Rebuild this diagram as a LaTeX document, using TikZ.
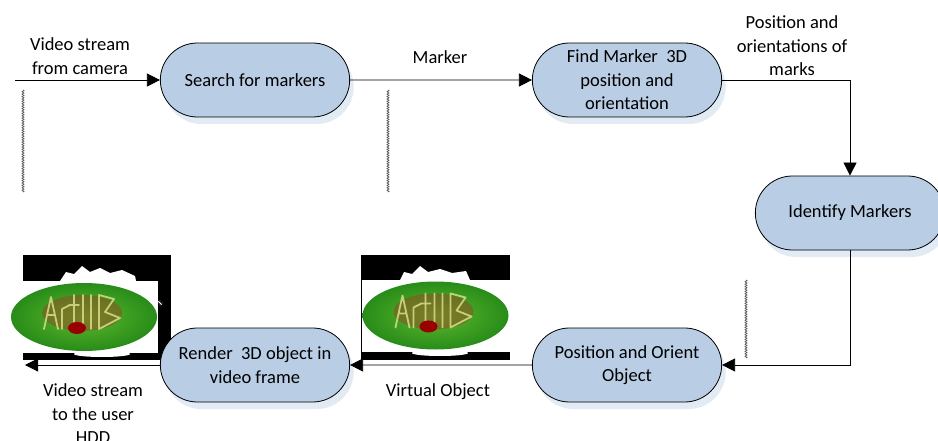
\documentclass[tikz,border=0pt]{standalone}
\usepackage{fontspec}
\setmainfont{Carlito}
\usetikzlibrary{shapes.misc, shadows, arrows.meta, decorations.pathmorphing}

\definecolor{stagefill}{HTML}{B9CDE5}
\definecolor{leaf}{RGB}{95,185,45}
\definecolor{leafdark}{RGB}{40,140,25}
\definecolor{sauce}{RGB}{150,70,35}
\definecolor{cheese}{RGB}{210,215,130}

\tikzset{
  stage/.style={rounded rectangle, draw, thick, fill=stagefill, align=center,
    minimum width=196pt, minimum height=74pt, font=\fontsize{18.5}{23.5}\selectfont,
    drop shadow={shadow xshift=4pt, shadow yshift=-7pt, fill=stagefill!70, opacity=0.6}},
  flow/.style={-{Triangle[length=13pt,width=13pt]}, line width=0.8pt},
  lbl/.style={align=center, font=\fontsize{18.5}{23.5}\selectfont},
  wiggle/.style={gray!70!black, line width=0.7pt, decorate,
    decoration={zigzag, amplitude=1pt, segment length=2.4pt}},
  salad/.pic={
    \fill[white] (-74,-36) rectangle (74,36);
    \shade[inner color=leaf, outer color=leafdark] (0,0) ellipse (73 and 34);
    \fill[sauce, opacity=0.5] (-2,-4) ellipse (40 and 18);
    \draw[cheese, line width=1.8pt, line join=round, line cap=round, opacity=0.9]
      (-40,12) -- (-33,-20) -- (-26,12) (-37,-2) -- (-29,-2)
      (-22,12) -- (-22,-8) -- (-14,-12)
      (-10,12) -- (-10,-22) (-15,-12) -- (-5,-12)
      (-1,12) -- (-1,-22) (7,12) -- (7,-22)
      (15,12) -- (15,-22) -- (30,-18) -- (21,-5) -- (36,1) -- (15,12);
    \fill[red!60!black] (-7,11) ellipse (9 and 6);
  }
}

\begin{document}
\begin{tikzpicture}[x=1pt, y=-1pt]
  \useasboundingbox (0,0) rectangle (938,441);
  \clip (0,0) rectangle (938,441);

  % pictures of the virtual object
  \fill[black] (23,255) rectangle (171,360);
  \fill[white] (60,281) -- (66,272) -- (74,274) -- (82,266) -- (90,272) -- (100,268)
    -- (110,273) -- (122,270) -- (135,276) -- (136,281) -- cycle;
  \fill[white] (102,354) ellipse (28 and 3);
  \draw[white, thin] (157,303) -- (163,303) (160,300) -- (160,306) (158,301) -- (162,305);
  \pic at (84,317) {salad};

  \fill[black] (361,255) rectangle (510,360);
  \fill[white] (400,280) -- (404,272) -- (412,274) -- (420,266) -- (428,272) -- (440,269)
    -- (452,273) -- (466,271) -- (470,280) -- cycle;
  \fill[white] (440,353) ellipse (28 and 3);
  \pic at (435.5,315.5) {salad};

  % stray dotted marks
  \draw[wiggle] (23,90) -- (23,192);
  \draw[wiggle] (388,90) -- (388,192);
  \draw[wiggle] (746,280) -- (746,358);

  % stages
  \node[stage] (search) at (255,80) {Search for markers};
  \node[stage] (find) at (627,80) {Find Marker~~3D\\position and\\orientation};
  \node[stage] (identify) at (850,213) {Identify Markers};
  \node[stage] (orient) at (627,365) {Position and Orient\\Object};
  \node[stage] (render) at (255,365) {Render~~3D object in\\video frame};

  \coordinate (camera) at (15,80);
  \coordinate (user) at (25,365);

  % flow
  \draw[flow] (camera) -- (search);
  \draw[flow] (search) -- (find);
  \draw[flow] (find) -| (identify);
  \draw[flow] (identify) |- (orient);
  \draw[flow] (orient) -- (render);
  \draw[flow] (render) -- (user);

  % labels
  \node[lbl] (inlbl) at (80,56) {Video stream\\from camera};
  \node[lbl] (markerlbl) at (440,57) {Marker};
  \node[lbl] (poselbl) at (792,46) {Position and\\orientations of\\marks};
  \node[lbl] (objlbl) at (438,392) {Virtual Object};
  \node[lbl] (outlbl) at (93,414) {Video stream\\to the user\\HDD};
\end{tikzpicture}
\end{document}
